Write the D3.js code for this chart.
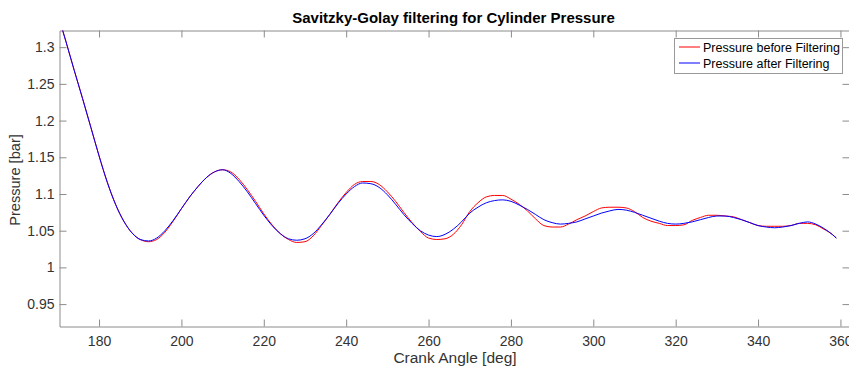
<!DOCTYPE html>
<html>
<head>
<meta charset="utf-8">
<script src="https://cdn.jsdelivr.net/npm/d3@7"></script>
<style>
  html, body { margin: 0; padding: 0; background: #ffffff; }
  svg { display: block; font-family: "Liberation Sans", Arial, Helvetica, sans-serif; }
</style>
</head>
<body>
<svg id="chart" width="849" height="370"></svg>
<script>
// Crank angle samples [deg]
const crankAngle = [
  170, 172, 174, 176, 178, 180, 182, 184, 186, 188,
  190, 192, 194, 196, 198, 200, 202, 204, 206, 208,
  210, 212, 214, 216, 218, 220, 222, 224, 226, 228,
  230, 232, 234, 236, 238, 240, 242, 244, 246, 248,
  250, 252, 254, 256, 258, 260, 262, 264, 266, 268,
  270, 272, 274, 276, 278, 280, 282, 284, 286, 288,
  290, 292, 294, 296, 298, 300, 302, 304, 306, 308,
  310, 312, 314, 316, 318, 320, 322, 324, 326, 328,
  330, 332, 334, 336, 338, 340, 342, 344, 346, 348,
  350, 352, 354, 356, 358, 359
];

// Raw cylinder pressure [bar]
const pressureRaw = [
  1.345, 1.307, 1.268, 1.230, 1.191, 1.152, 1.116, 1.086, 1.063, 1.047,
  1.038, 1.035, 1.038, 1.048, 1.063, 1.080, 1.096, 1.110, 1.122, 1.130,
  1.133, 1.130, 1.120, 1.106, 1.090, 1.073, 1.058, 1.046, 1.038, 1.034,
  1.035, 1.043, 1.057, 1.072, 1.088, 1.102, 1.113, 1.117, 1.117, 1.113,
  1.103, 1.090, 1.075, 1.061, 1.049, 1.040, 1.038, 1.039, 1.045, 1.058,
  1.076, 1.088, 1.096, 1.098, 1.098, 1.093, 1.086, 1.077, 1.066, 1.057,
  1.055, 1.055, 1.059, 1.065, 1.070, 1.076, 1.081, 1.082, 1.082, 1.081,
  1.076, 1.068, 1.063, 1.060, 1.057, 1.057, 1.058, 1.064, 1.068, 1.071,
  1.071, 1.070, 1.069, 1.065, 1.061, 1.057, 1.056, 1.056, 1.056, 1.057,
  1.060, 1.060, 1.058, 1.052, 1.045, 1.040
];

// Savitzky-Golay smoothed pressure [bar]
const pressureFiltered = [
  1.345, 1.307, 1.268, 1.230, 1.191, 1.152, 1.116, 1.086, 1.063, 1.047,
  1.038, 1.036, 1.040, 1.050, 1.064, 1.080, 1.096, 1.110, 1.122, 1.130,
  1.133, 1.128, 1.117, 1.103, 1.087, 1.071, 1.057, 1.046, 1.039, 1.037,
  1.039, 1.046, 1.058, 1.072, 1.087, 1.100, 1.110, 1.115, 1.114, 1.109,
  1.099, 1.086, 1.072, 1.060, 1.050, 1.044, 1.042, 1.045, 1.052, 1.062,
  1.074, 1.082, 1.088, 1.091, 1.092, 1.090, 1.085, 1.079, 1.072, 1.065,
  1.061, 1.059, 1.060, 1.062, 1.066, 1.070, 1.074, 1.077, 1.079, 1.078,
  1.075, 1.071, 1.067, 1.063, 1.060, 1.059, 1.060, 1.062, 1.065, 1.068,
  1.070, 1.070, 1.068, 1.065, 1.061, 1.057, 1.055, 1.054, 1.055, 1.057,
  1.060, 1.062, 1.059, 1.053, 1.045, 1.040
];

// Axis ticks
const xTicks = [180, 200, 220, 240, 260, 280, 300, 320, 340, 360];
const yTicks = [0.95, 1, 1.05, 1.1, 1.15, 1.2, 1.25, 1.3];
const yTickLabels = ["0.95", "1", "1.05", "1.1", "1.15", "1.2", "1.25", "1.3"];

const seriesNames = ["Pressure before Filtering", "Pressure after Filtering"];
const seriesColors = ["#ff0000", "#0000ff"];

// Plot box
const box = { left: 59.5, right: 849.5, top: 30.5, bottom: 326.5 };
const tickLen = 7;
const axisColor = "#8c8c8c";
const textColor = "#333333";

const svg = d3.select("#chart");

const x = d3.scaleLinear().domain([170.4, 362.2]).range([box.left, box.right]);
const y = d3.scaleLinear().domain([0.9195, 1.3227]).range([box.bottom, box.top]);

// Clip curves to the axes area
svg.append("defs").append("clipPath").attr("id", "plotClip")
  .append("rect")
  .attr("x", box.left).attr("y", box.top)
  .attr("width", box.right - box.left).attr("height", box.bottom - box.top);

// Bottom axis with inward ticks
const xAxisBottom = d3.axisBottom(x).tickValues(xTicks).tickSizeInner(-tickLen).tickSizeOuter(0).tickPadding(10);
const gxb = svg.append("g").attr("transform", `translate(0,${box.bottom})`).call(xAxisBottom);
// Top mirrored axis
const xAxisTop = d3.axisTop(x).tickValues(xTicks).tickSizeInner(-tickLen).tickSizeOuter(0).tickFormat("");
const gxt = svg.append("g").attr("transform", `translate(0,${box.top})`).call(xAxisTop);
// Left axis
const yAxisLeft = d3.axisLeft(y).tickValues(yTicks).tickSizeInner(-tickLen).tickSizeOuter(0).tickPadding(5)
  .tickFormat((d, i) => yTickLabels[i]);
const gyl = svg.append("g").attr("transform", `translate(${box.left},0)`).call(yAxisLeft);
// Right mirrored axis
const yAxisRight = d3.axisRight(y).tickValues(yTicks).tickSizeInner(-tickLen).tickSizeOuter(0).tickFormat("");
const gyr = svg.append("g").attr("transform", `translate(${box.right},0)`).call(yAxisRight);

[gxb, gxt, gyl, gyr].forEach(g => {
  g.select(".domain").attr("stroke", axisColor).attr("stroke-width", 1);
  g.selectAll(".tick line").attr("stroke", axisColor).attr("stroke-width", 1);
  g.selectAll(".tick text").attr("fill", textColor).attr("font-size", 14)
    .attr("font-family", "\"Liberation Sans\", Arial, Helvetica, sans-serif");
});

// Curves
const line = d3.line()
  .x((d, i) => x(crankAngle[i]))
  .y(d => y(d))
  .curve(d3.curveMonotoneX);

const curves = svg.append("g").attr("clip-path", "url(#plotClip)");
[pressureRaw, pressureFiltered].forEach((vals, k) => {
  curves.append("path")
    .attr("d", line(vals))
    .attr("fill", "none")
    .attr("stroke", seriesColors[k])
    .attr("stroke-width", 1)
    .attr("stroke-linejoin", "round");
});

// Title
svg.append("text")
  .attr("x", (box.left + box.right) / 2 - 1)
  .attr("y", 23)
  .attr("text-anchor", "middle")
  .attr("font-size", 15)
  .attr("font-weight", "bold")
  .attr("fill", "#000")
  .text("Savitzky-Golay filtering for Cylinder Pressure");

// Axis labels
svg.append("text")
  .attr("x", 455)
  .attr("y", 363)
  .attr("text-anchor", "middle")
  .attr("font-size", 15.5)
  .attr("fill", textColor)
  .text("Crank Angle [deg]");

svg.append("text")
  .attr("transform", "translate(20,180) rotate(-90)")
  .attr("text-anchor", "middle")
  .attr("font-size", 14.6)
  .attr("fill", textColor)
  .text("Pressure [bar]");

// Legend
const lg = svg.append("g");
lg.append("rect")
  .attr("x", 674.5).attr("y", 38.5)
  .attr("width", 168).attr("height", 35)
  .attr("fill", "#ffffff")
  .attr("stroke", "#999999")
  .attr("stroke-width", 1);
seriesNames.forEach((name, k) => {
  const ly = 47 + k * 16;
  lg.append("line")
    .attr("x1", 679).attr("x2", 700)
    .attr("y1", ly).attr("y2", ly)
    .attr("stroke", seriesColors[k]).attr("stroke-width", 1);
  lg.append("text")
    .attr("x", 703).attr("y", ly + 5)
    .attr("font-size", 12.5)
    .attr("fill", "#000")
    .text(name);
});
</script>
</body>
</html>
